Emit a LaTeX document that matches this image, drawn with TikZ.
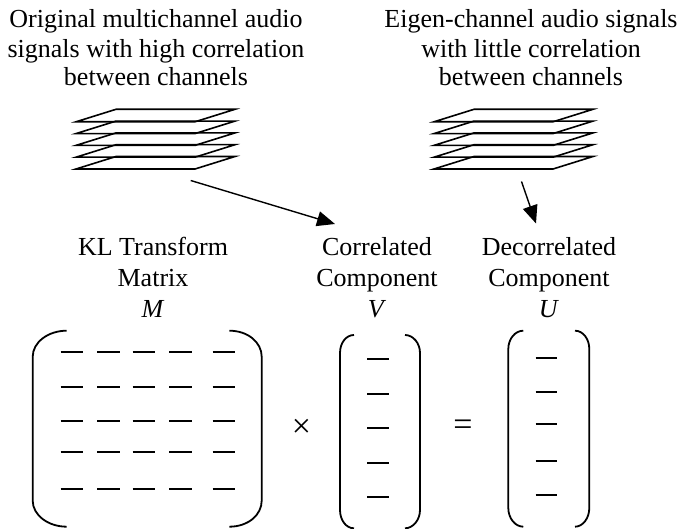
\documentclass[tikz,border=0pt]{standalone}
\usepackage{fontspec}
\setmainfont{Liberation Serif}
\usetikzlibrary{arrows.meta}
\begin{document}
\begin{tikzpicture}[x=1pt,y=-1pt,
  lbl/.style={font=\fontsize{26}{30}\selectfont, inner sep=0pt, anchor=base},
  sym/.style={font=\fontsize{34}{40}\selectfont, inner sep=0pt, anchor=center},
  layer/.style={line width=1.6pt, line join=miter},
  paren/.style={line width=1.8pt},
  entry/.style={line width=2pt},
  conn/.style={line width=1.4pt, -{Triangle[length=18pt,width=15pt]}},
]
\useasboundingbox (0,0) rectangle (683,529);

% top texts
\node[lbl] (oa) at (156,28) {Original multichannel audio};
\node[lbl] (ob) at (156,57.5) {signals with high correlation};
\node[lbl] (oc) at (156,86) {between channels};
\node[lbl] (ea) at (531,28) {Eigen-channel audio signals};
\node[lbl] (eb) at (531,57.5) {with little correlation};
\node[lbl] (ec) at (531,86) {between channels};

% stacks of channel layers
\foreach \i in {0,...,4}{
  \pgfmathsetmacro{\t}{109.3+11.8*\i}
  \pgfmathsetmacro{\b}{\t+12.5}
  \draw[layer] (76,\b) -- (116,\t) -- (235,\t) -- (195,\b) -- cycle;
  \draw[layer] (434,\b) -- (474,\t) -- (593,\t) -- (553,\b) -- cycle;
}

% arrows
\coordinate (s1) at (190.7,180.5);
\coordinate (e1) at (335,224);
\coordinate (s2) at (521.5,181.5);
\coordinate (e2) at (536,223.5);
\draw[conn] (s1) -- (e1);
\draw[conn] (s2) -- (e2);

% column labels
\node[lbl] (ka) at (153,256) {KL Transform};
\node[lbl] (kb) at (153,287) {Matrix};
\node[lbl] (kc) at (153,318) {\textit{M}};
\node[lbl] (ca) at (377,256) {Correlated};
\node[lbl] (cb) at (377,287) {Component};
\node[lbl] (cc) at (377,318) {\textit{V}};
\node[lbl] (da) at (549,256) {Decorrelated};
\node[lbl] (db) at (549,287) {Component};
\node[lbl] (dc) at (549,318) {\textit{U}};

% matrix M brackets
\draw[paren] (66.7,330.7) .. controls (48,330.7) and (32.7,342.4) .. (32.7,356.7)
  -- (32.7,500.7) .. controls (32.7,515) and (48,526.7) .. (66.7,526.7);
\draw[paren] (229.3,330.7) .. controls (248,330.7) and (261.7,342.4) .. (261.7,356.7)
  -- (261.7,500.7) .. controls (261.7,515) and (248,526.7) .. (229.3,526.7);
% M entries
\foreach \y in {351.7,386.7,421,451.7,489.3}{
  \foreach \x in {60.7,97.3,132.7,169.3,212.7}{
    \draw[entry] (\x,\y) -- ++(22.6,0);
  }
}

\node[sym] (times) at (301.5,428.5) {×};

% vector V brackets
\draw[paren] (354,335) .. controls (346,335) and (340,343) .. (340,353)
  -- (340,510) .. controls (340,520) and (346,528.3) .. (354,528.3);
\draw[paren] (405,335) .. controls (413,335) and (420,343) .. (420,353)
  -- (420,510) .. controls (420,520) and (413,528.3) .. (405,528.3);
\foreach \y in {359.3,394,428.3,462.7,496.7}{
  \draw[entry] (367.3,\y) -- ++(22,0);
}

\node[sym] (eq) at (463,428) {=};

% vector U brackets
\draw[paren] (523.3,330.7) .. controls (515,330.7) and (508.3,339) .. (508.3,349)
  -- (508.3,508) .. controls (508.3,518) and (515,526.7) .. (523.3,526.7);
\draw[paren] (575,330.7) .. controls (583,330.7) and (589.3,339) .. (589.3,349)
  -- (589.3,508) .. controls (589.3,518) and (583,526.7) .. (575,526.7);
\foreach \y in {358.3,392.3,424,461,495}{
  \draw[entry] (535.7,\y) -- ++(21.6,0);
}
\end{tikzpicture}
\end{document}
